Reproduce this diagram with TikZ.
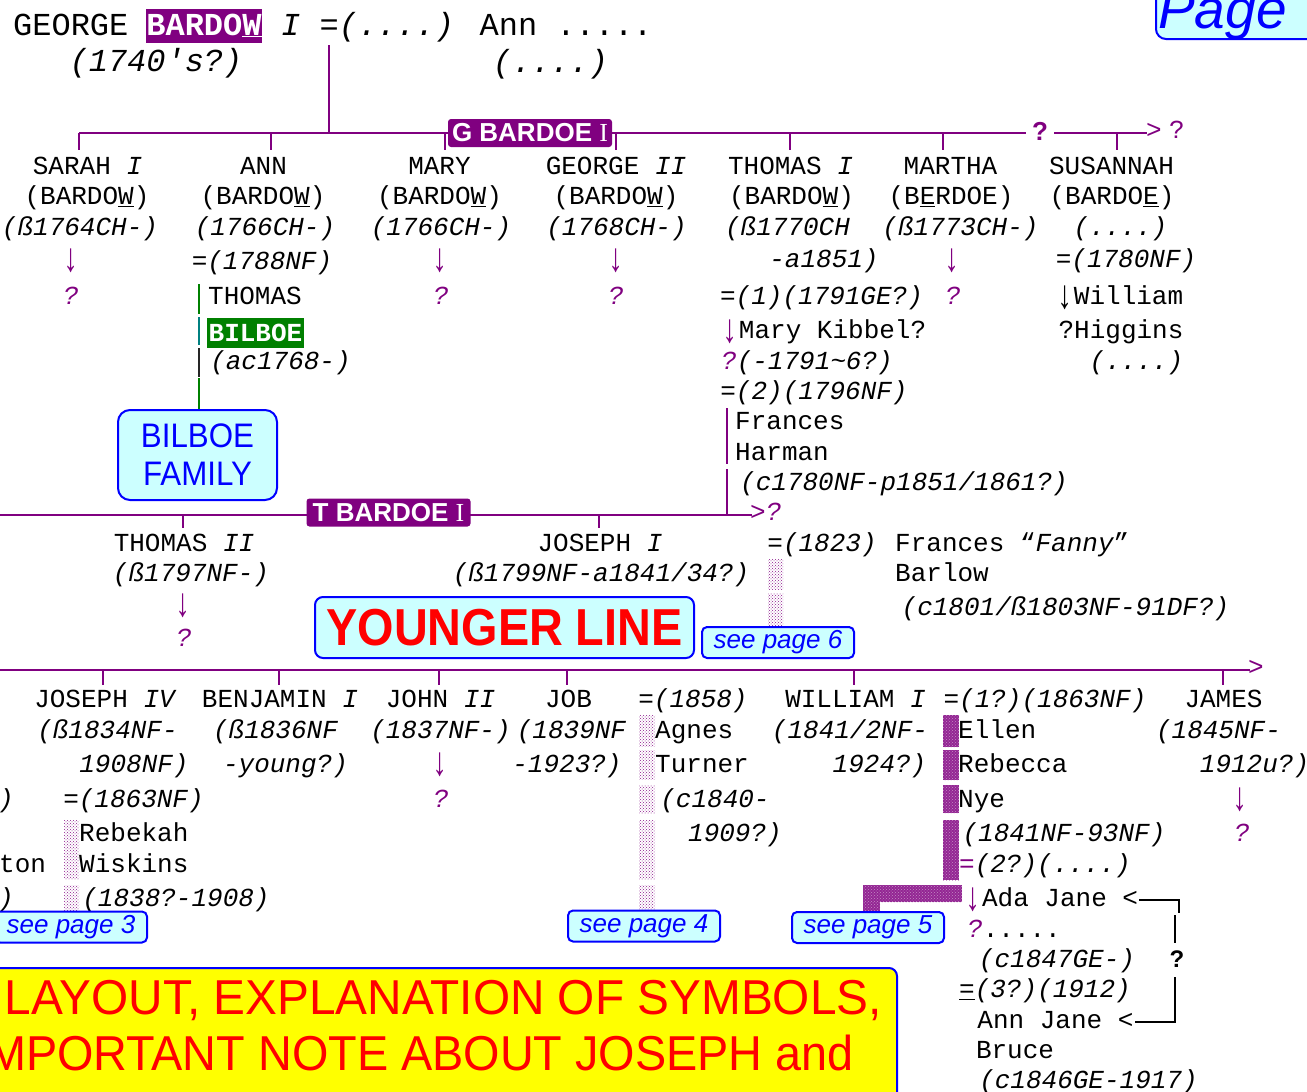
\documentclass[tikz,border=0pt]{standalone}
\usepackage{fontspec}
\usepackage{graphicx}
\usetikzlibrary{patterns}
\newfontfamily\monof{Liberation Mono}
\newfontfamily\sansf{Liberation Sans}
\newfontfamily\seriff{Liberation Serif}
\newfontfamily\arrf{Liberation Mono}
\definecolor{purp}{HTML}{800080}
\definecolor{greenc}{HTML}{008000}
\definecolor{tealc}{HTML}{008080}
\definecolor{bluec}{HTML}{0000FF}
\definecolor{cyanl}{HTML}{CCFFFF}
\definecolor{redc}{HTML}{FF0000}
\definecolor{yellowc}{HTML}{FFFF00}
\newcommand\bodysz{\fontsize{26}{30}\selectfont}
\newcommand\topsz{\fontsize{32}{36}\selectfont}
\newcommand\bigarrow{\raisebox{-4pt}{\scalebox{1.1}[1.55]{\arrf ↓}}}
\newcommand\dnar{{\color{purp}\bigarrow}}
\newcommand\bkar{{\bigarrow}}
\newcommand\pq{{\color{purp}\itshape ?}}
\newcommand\putl[4]{\node[txt] (#1) at (#2,{#3+7.5}) {#4};}
\newcommand\putc[4]{\node[txtc] (#1) at (#2,{#3+7.5}) {#4};}
\tikzset{
 txt/.style={inner sep=0pt, anchor=base west, font=\monof\bodysz},
 txtc/.style={txt, anchor=base},
 bar/.style={draw=purp, line width=2.6pt},
 tick/.style={draw=purp, line width=2pt},
 lbl/.style={fill=purp, rounded corners=3pt, text=white, font=\sansf\bfseries\fontsize{26}{30}\selectfont, minimum width=164pt, minimum height=28pt, inner sep=0pt},
 cbox/.style={draw=bluec, fill=cyanl, line width=2pt, inner sep=0pt},
 seep/.style={cbox, rounded corners=5pt, minimum width=152pt, minimum height=31pt, font=\sansf\itshape\fontsize{26}{30}\selectfont, text=bluec},
 dotbar/.style={pattern=crosshatch dots, pattern color=purp!90},
 densebar/.style={fill=purp!85},
 densetex/.style={pattern=crosshatch dots, pattern color=white!55!purp},
 brk/.style={draw=black, line width=2pt},
}
\begin{document}
\begin{tikzpicture}[x=1pt,y=-1pt]
\path[use as bounding box, fill=white] (0,0) rectangle (1307,1092);

% ---------- top couple ----------
\node[txt, font=\monof\topsz] (gI) at (13,35.5) {GEORGE};
\node[fill=purp, text=white, font=\monof\bfseries\topsz, minimum width=116pt, minimum height=34pt, inner sep=0pt] (gbar) at (204,25.5) {BARDO\underline{W}};
\node[txt, font=\monof\topsz] (gII) at (281,35.5) {{\itshape I} ={\itshape(....)} Ann .....};
\node[txtc, font=\monof\itshape\topsz] (gIII) at (156,71) {(1740's?)};
\node[txtc, font=\monof\itshape\topsz] (gIV) at (550.5,72) {(....)};

% ---------- generation bar 1 ----------
\coordinate (gj) at (329,45);
\coordinate (b1j) at (329,133);
\draw[bar] (gj) -- (b1j);
\coordinate (b1s) at (79,133);
\coordinate (b1e) at (1147,133);
\draw[bar] (b1s) -- (b1e);
\foreach \x [count=\i] in {79,271,445,616,790,943,1117} {\coordinate (ka\i) at (\x,133); \draw[tick] (ka\i) -- ++(0,17);}
\node[lbl] (gb) at (530,133) {G BARDOE {\seriff\mdseries I}};
\node[fill=white, inner xsep=6pt, inner ysep=1pt, text=purp, font=\sansf\bfseries\fontsize{26}{30}\selectfont] (b1q) at (1040,131) {?};
\node[txtc, text=purp] (b1a) at (1154,138.5) {>};
\node[txtc, text=purp] (b1r) at (1177,138.5) {?};

% row 1
\putc{sa1}{87.5}{167}{SARAH {\itshape I}}
\putc{an1}{263.5}{167}{ANN}
\putc{mr1}{439.5}{167}{MARY}
\putc{ge1}{616}{167}{GEORGE {\itshape II}}
\putc{th1}{790.5}{167}{THOMAS {\itshape I}}
\putc{mt1}{950.5}{167}{MARTHA}
\putc{su1}{1111.5}{167}{SUSANNAH}
% row 2
\putc{sa2}{87}{197}{(BARDO\underline{W})}
\putc{an2}{263}{197}{(BARDO\underline{W})}
\putc{mr2}{439.5}{197}{(BARDO\underline{W})}
\putc{ge2}{616}{197}{(BARDO\underline{W})}
\putc{th2}{791.5}{197}{(BARDO\underline{W})}
\putc{mt2}{951}{197}{(B\underline{E}RDOE)}
\putc{su2}{1112}{197}{(BARDO\underline{E})}
% row 3
\putc{sa3}{80}{228}{\itshape(ß1764CH-)}
\putc{an3}{265}{228}{\itshape(1766CH-)}
\putc{mr3}{441}{228}{\itshape(1766CH-)}
\putc{ge3}{616.5}{228}{\itshape(1768CH-)}
\putc{th3}{787.5}{228}{\itshape(ß1770CH}
\putc{mt3}{960.5}{228}{\itshape(ß1773CH-)}
\putc{su3}{1120.5}{228}{\itshape(....)}
% row 4
\putc{sa4}{71}{260}{\dnar}
\putc{mr4}{440}{260}{\dnar}
\putc{ge4}{616}{260}{\dnar}
\putc{mt4}{952}{260}{\dnar}
\putc{an4}{262}{262}{={\itshape(1788NF)}}
\putc{th4}{824}{260}{\itshape -a1851)}
\putc{su4}{1126}{260}{={\itshape(1780NF)}}
% row 5
\putc{sa5}{71}{297}{\pq}
\putc{mr5}{441}{297}{\pq}
\putc{ge5}{616}{297}{\pq}
\putc{mt5}{953}{297}{\pq}
\putc{an5}{255}{297}{THOMAS}
\putc{th5}{821.5}{297}{={\itshape(1)(1791GE?)}}
\putc{su5}{1120}{297}{\bkar William}
% row 6
\node[fill=greenc, text=white, font=\monof\bfseries\bodysz, minimum width=97pt, minimum height=30pt, inner sep=0pt] (bil) at (255.5,332.5) {BILBOE};
\putc{th6}{824}{331}{\dnar Mary Kibbel?}
\putc{su6}{1121}{331}{?Higgins}
% row 7
\putc{an7}{280.5}{362}{\itshape(ac1768-)}
\putc{th7}{807}{362}{\pq{\itshape(-1791\textasciitilde 6?)}}
\putc{su7}{1136.5}{362}{\itshape(....)}
% rows 8-11
\putc{th8}{814}{392}{={\itshape(2)(1796NF)}}
\putl{th9}{735}{422}{Frances}
\putl{th10}{735}{453}{Harman}
\putc{th11}{904}{483}{\itshape(c1780NF-p1851/1861?)}

% Ann's line to Bilboe family
\node[cbox, rounded corners=12pt, minimum width=159pt, minimum height=90pt, align=center, text=bluec, font=\sansf\fontsize{34}{38}\selectfont] (bf) at (197.5,455) {\scalebox{0.92}[1]{BILBOE}\\\scalebox{0.92}[1]{FAMILY}};
\coordinate (av0) at (199,284);
\coordinate (av1) at (199,314);
\coordinate (av2) at (199,317);
\coordinate (av3) at (199,345);
\coordinate (av4) at (199,348);
\coordinate (av5) at (199,377);
\coordinate (av6) at (199,378);
\coordinate (av7) at (199,409);
\draw[draw=greenc, line width=2pt] (av0) -- (av1);
\draw[draw=tealc, line width=2pt] (av2) -- (av3);
\draw[draw=black!85, line width=2pt] (av4) -- (av5);
\draw[draw=greenc, line width=2pt] (av6) -- (av7);

% ---------- generation bar 2 ----------
\coordinate (b2s) at (-5,515);
\coordinate (b2e) at (752,515);
\draw[bar] (b2s) -- (b2e);
\coordinate (tv1) at (727,408);
\coordinate (tv2) at (727,464);
\coordinate (tv3) at (727,469);
\coordinate (tv4) at (727,515);
\draw[tick, line width=2.4pt] (tv1) -- (tv2);
\draw[tick, line width=2.4pt] (tv3) -- (tv4);
\foreach \x [count=\i] in {183,599} {\coordinate (kb\i) at (\x,515); \draw[tick] (kb\i) -- ++(0,13);}
\node[lbl] (tb) at (388.5,512.5) {T BARDOE {\seriff\mdseries I}};
\node[txt, text=purp] (b2a) at (750,520.5) {>{\itshape ?}};

\putc{t2a}{184}{544}{THOMAS {\itshape II}}
\putc{j1a}{600}{544}{JOSEPH {\itshape I}}
\putc{j1m}{822}{544}{={\itshape(1823)}}
\putl{fb1}{895}{544}{Frances “{\itshape Fanny}”}
\putc{t2b}{191}{574}{\itshape(ß1797NF-)}
\putc{j1b}{601}{574}{\itshape(ß1799NF-a1841/34?)}
\putl{fb2}{895}{574}{Barlow}
\putc{t2c}{183}{605}{\dnar}
\putc{fb3}{1065.5}{608}{\itshape(c1801/ß1803NF-91DF?)}
\putc{t2d}{184}{639}{\pq}
\fill[dotbar] (768,559) rectangle (783,589);
\fill[dotbar] (768,593) rectangle (783,626);

\node[cbox, rounded corners=8pt, minimum width=379pt, minimum height=61pt, text=redc, font=\sansf\bfseries\fontsize{52}{56}\selectfont] (yl) at (504.5,627.5) {\scalebox{0.9}[1]{YOUNGER LINE}};
\node[seep] (sp6) at (778,642.5) {see page 6};

% ---------- generation bar 3 ----------
\coordinate (b3s) at (-5,670);
\coordinate (b3e) at (1250,670);
\draw[bar] (b3s) -- (b3e);
\foreach \x [count=\i] in {103,279,439,567,854,1223} {\coordinate (kc\i) at (\x,670); \draw[tick] (kc\i) -- ++(0,15);}
\node[txtc, text=purp] (b3a) at (1256,675.5) {>};

% row 700
\putc{j4a}{104.5}{700}{JOSEPH {\itshape IV}}
\putc{bja}{280}{700}{BENJAMIN {\itshape I}}
\putc{jna}{440.5}{700}{JOHN {\itshape II}}
\putc{jba}{568.5}{700}{JOB}
\putc{jbm}{693}{700}{={\itshape(1858)}}
\putc{wia}{855.5}{700}{WILLIAM {\itshape I}}
\putc{wim}{1045}{700}{={\itshape(1?)(1863NF)}}
\putc{jma}{1223.5}{700}{JAMES}
% row 731
\putc{j4b}{107.5}{731}{\itshape(ß1834NF-}
\putc{bjb}{275.5}{731}{\itshape(ß1836NF}
\putc{jnb}{440.5}{731}{\itshape(1837NF-)}
\putc{jbb}{571.5}{731}{\itshape(1839NF}
\putl{ag1}{655}{731}{Agnes}
\putc{wib}{850}{731}{\itshape(1841/2NF-}
\putl{el1}{958}{731}{Ellen}
\putc{jmb}{1218.5}{731}{\itshape(1845NF-}
% row 765
\putc{j4c}{134}{765}{\itshape 1908NF)}
\putc{bjc}{285.5}{765}{\itshape -young?)}
\putc{jnc}{440}{764}{\dnar}
\putc{jbc}{567}{765}{\itshape -1923?)}
\putl{ag2}{655}{765}{Turner}
\putc{wic}{879.5}{765}{\itshape 1924?)}
\putl{el2}{958}{765}{Rebecca}
\putc{jmc}{1254.5}{765}{\itshape 1912u?)}
% row 800
\putl{lf1}{-17.6}{800}{\itshape F)}
\putc{j4m}{133.5}{800}{={\itshape(1863NF)}}
\putc{jnd}{441}{800}{\pq}
\putc{ag3}{715}{800}{\itshape(c1840-}
\putl{el3}{958}{800}{Nye}
\putc{jmd}{1240}{799}{\dnar}
% row 834
\putl{rb1}{79}{834}{Rebekah}
\putc{ag4}{735}{834}{\itshape 1909?)}
\putc{el4}{1064}{834}{\itshape(1841NF-93NF)}
\putc{jme}{1242}{834}{\pq}
% row 865
\putl{lf2}{-1}{865}{ton}
\putl{rb2}{79}{865}{Wiskins}
\putc{el5}{1045}{865}{{\color{purp}=}{\itshape(2?)(....)}}
% row 899 onwards
\putl{lf3}{-2}{899}{\itshape )}
\putc{rb3}{176}{899}{\itshape(1838?-1908)}
\putc{ada}{1051.5}{899}{\dnar Ada Jane <}
\putc{ad2}{1014}{930}{\pq .....}
\putc{ad3}{1057}{960}{\itshape(c1847GE-)}
\putc{ad4}{1045}{990}{\underline{=}{\itshape(3?)(1912)}}
\putc{aj1}{1055.5}{1021}{Ann Jane <}
\putc{aj2}{1015}{1051}{Bruce}
\putc{aj3}{1088.5}{1081}{\itshape(c1846GE-1917)}

% bracket
\coordinate (bk1) at (1139,900);
\coordinate (bk2) at (1179,900);
\coordinate (bk3) at (1179,913);
\coordinate (bk4) at (1175,915);
\coordinate (bk5) at (1175,943);
\coordinate (bk6) at (1175,977);
\coordinate (bk7) at (1175,1022);
\coordinate (bk8) at (1135,1022);
\draw[brk] (bk1) -- (bk2) -- (bk3);
\draw[brk] (bk4) -- (bk5);
\draw[brk] (bk6) -- (bk7) -- (bk8);
\node[inner sep=0pt, font=\sansf\bfseries\fontsize{24}{28}\selectfont] (bkq) at (1177,959) {?};

% spouse bars
\fill[dotbar] (64,820) rectangle (79,879);
\fill[dotbar] (64,885) rectangle (79,910);
\foreach \a/\b in {715/746,750/779,785/813,820/879,885/910} {\fill[dotbar] (639,\a) rectangle (655,\b);}
\foreach \a/\b in {715/747,750/780,785/813,820/880} {\fill[densebar] (943,\a) rectangle (959,\b); \fill[densetex] (943,\a) rectangle (959,\b);}
\fill[densebar] (863,885) rectangle (962,902);
\fill[densebar] (863,902) rectangle (880,912);
\fill[densetex] (863,885) rectangle (962,902);
\fill[densetex] (863,902) rectangle (880,912);

% see page boxes
\node[seep] (sp3) at (71,927) {see page 3};
\node[seep] (sp4) at (644,926) {see page 4};
\node[seep] (sp5) at (868,927.5) {see page 5};

% yellow note
\node[draw=bluec, fill=yellowc, line width=2pt, rounded corners=8pt, minimum width=918pt, minimum height=160pt, anchor=north east, inner sep=0pt] (yb) at (898,967) {};
\node[inner sep=0pt, anchor=base east, text=redc, font=\sansf\fontsize{49}{52}\selectfont] (yt1) at (882,1014) {\scalebox{0.975}[1]{LAYOUT, EXPLANATION OF SYMBOLS,}};
\node[inner sep=0pt, anchor=base east, text=redc, font=\sansf\fontsize{49}{52}\selectfont] (yt2) at (854,1070) {\scalebox{0.955}[1]{IMPORTANT NOTE ABOUT JOSEPH and}};

% page box
\node[cbox, rounded corners=10pt, minimum width=180pt, minimum height=70pt, anchor=south west] (pgb) at (1155,40) {};
\node[inner sep=0pt, anchor=base west, text=bluec, font=\sansf\itshape\fontsize{55}{58}\selectfont] (pgt) at (1158,28) {Page};
\end{tikzpicture}
\end{document}
